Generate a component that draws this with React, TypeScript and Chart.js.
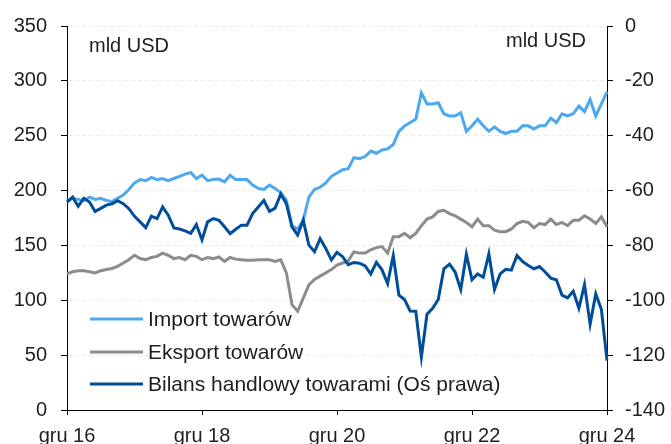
import React, { useEffect, useRef } from "react";
import { Chart, registerables } from "chart.js";

Chart.register(...registerables);

const monthNames = ["sty", "lut", "mar", "kwi", "maj", "cze", "lip", "sie", "wrz", "paź", "lis", "gru"];
const startYear = 2016;
const startMonth = 11; // grudzień 2016
const monthCount = 97; // gru 16 .. gru 24
const labels: string[] = [];
for (let k = 0; k < monthCount; k++) {
  const m = (startMonth + k) % 12;
  const y = startYear + Math.floor((startMonth + k) / 12);
  labels.push(`${monthNames[m]} ${String(y).slice(2)}`);
}
const tickEvery = 24;

const importTowarow = [
  190, 193, 192, 191, 194, 192, 193, 191, 190, 193, 196, 201, 207, 210, 209, 212, 210, 211, 209, 211,
  213, 215, 216.5, 211, 214, 209, 210, 210.5, 208, 214, 210, 210, 210, 205, 202, 201, 205, 202, 198, 191,
  168, 165, 173, 194, 201, 203, 207, 213, 216, 219, 220, 230, 229, 231, 236, 234, 237, 238, 242, 254,
  259, 262, 265, 289, 279, 279, 280, 270, 268, 268, 271, 254, 259, 265, 259, 254, 258, 254, 252, 254,
  254, 259, 259, 256, 259, 259, 266, 262, 270, 268, 270, 277, 272, 283, 268, 279, 290,
];

const eksportTowarow = [
  124, 126, 127, 127, 126, 125, 127, 128, 129, 131, 134, 137, 141, 138, 137, 139, 140, 143, 141, 138,
  139, 137, 141, 140, 137, 139, 138, 139.5, 135.5, 139, 137.5, 137, 136.5, 136.5, 137, 137, 137, 135.5, 137, 125,
  96, 90, 102, 114, 119, 122, 125, 128, 132, 134, 136, 144, 143, 143, 146, 148, 149, 143, 158, 158,
  161, 157, 161, 168, 174, 176, 181, 182, 179, 177, 174, 171, 167, 174, 168, 168, 164, 162.5, 162.5, 165,
  170, 172, 171, 166, 170, 169, 174, 169, 171, 168, 173, 173, 177, 174, 170, 176, 167,
];

const bilansHandlowy = [
  -64.2, -62.4, -65.7, -62.8, -64.2, -67.6, -66.5, -65.3, -64.8, -63.7, -64.8, -66.6, -69.4, -71.4, -73.5, -69.3, -70.2, -66, -69, -73.6,
  -74, -74.7, -75.6, -72.4, -78, -71.4, -70.2, -70.8, -73.2, -75.7, -74.1, -72.6, -72.6, -68.4, -66, -63.6, -67.6, -66.4, -61.2, -64.8,
  -73.2, -76.2, -70.8, -79.9, -82.3, -77.5, -81.1, -85.3, -82.5, -84.1, -87, -86.2, -86.5, -87.5, -90.4, -86.2, -88.9, -93.9, -83.7, -98.1,
  -99.7, -103.9, -104, -120.7, -105.1, -102.9, -99.7, -88.5, -86.8, -89.7, -96.1, -83.2, -92.5, -90.4, -91.6, -83, -96.1, -90.4, -88.7, -89,
  -83.7, -85.9, -87.3, -88.5, -87.7, -89.7, -91.9, -92.5, -98.1, -99.1, -96.7, -102.9, -94.3, -108.7, -97.7, -103.3, -122,
];

const seriesNames = ["Import towarów", "Eksport towarów", "Bilans handlowy towarami (Oś prawa)"];
const unitLeft = "mld USD";
const unitRight = "mld USD";

const FONT = "Liberation Sans, Arial, sans-serif";
const TEXT = "#1e1e1e";

const overlayPlugin = {
  id: "overlay",
  afterDraw(chart: any) {
    const ctx = chart.ctx as CanvasRenderingContext2D;
    const area = chart.chartArea;
    ctx.save();
    ctx.font = `20px ${FONT}`;
    ctx.fillStyle = TEXT;
    ctx.textBaseline = "middle";
    ctx.textAlign = "left";
    ctx.fillText(unitLeft, area.left + 22, area.top + 20);
    ctx.textAlign = "right";
    ctx.fillText(unitRight, area.right - 21, area.top + 15);
    // legend
    ctx.font = `21px ${FONT}`;
    const rowY = [area.bottom - 91, area.bottom - 58, area.bottom - 26];
    chart.data.datasets.forEach((ds: any, i: number) => {
      const y = rowY[i];
      ctx.strokeStyle = ds.borderColor;
      ctx.lineWidth = 3;
      ctx.beginPath();
      ctx.moveTo(area.left + 23, y);
      ctx.lineTo(area.left + 76, y);
      ctx.stroke();
      ctx.fillStyle = TEXT;
      ctx.textAlign = "left";
      ctx.fillText(ds.label, area.left + 81, y + 1);
    });
    ctx.restore();
  },
};

export default function App() {
  const ref = useRef<HTMLCanvasElement | null>(null);
  useEffect(() => {
    if (!ref.current) return;
    const chart = new Chart(ref.current, {
      type: "line",
      data: {
        labels,
        datasets: [
          {
            label: seriesNames[0],
            data: importTowarow,
            borderColor: "#4DA8F2",
            backgroundColor: "#4DA8F2",
            borderWidth: 3,
            pointRadius: 0,
            tension: 0,
            yAxisID: "y",
            order: 1,
          },
          {
            label: seriesNames[1],
            data: eksportTowarow,
            borderColor: "#8C8C8C",
            backgroundColor: "#8C8C8C",
            borderWidth: 3,
            pointRadius: 0,
            tension: 0,
            yAxisID: "y",
            order: 2,
          },
          {
            label: seriesNames[2],
            data: bilansHandlowy,
            borderColor: "#004D9A",
            backgroundColor: "#004D9A",
            borderWidth: 3,
            pointRadius: 0,
            tension: 0,
            yAxisID: "y1",
            order: 0,
          },
        ],
      },
      options: {
        responsive: false,
        animation: false,
        devicePixelRatio: 1,
        layout: { padding: { top: 22, left: 0, right: 0, bottom: 0 } },
        plugins: { legend: { display: false }, tooltip: { enabled: false } },
        scales: {
          x: {
            type: "category",
            offset: false,
            afterBuildTicks(axis: any) {
              axis.ticks = axis.ticks.filter((t: any) => t.value % tickEvery === 0);
            },
            afterFit(axis: any) {
              axis.height = 34;
            },
            ticks: {
              autoSkip: false,
              maxRotation: 0,
              minRotation: 0,
              padding: 9,
              color: TEXT,
              font: { family: FONT, size: 20 },
            },
            grid: { drawOnChartArea: false, drawTicks: true, tickLength: 5, tickColor: "#000" },
            border: { display: true, color: "#000", width: 1 },
          },
          y: {
            position: "left",
            min: 0,
            max: 350,
            afterFit(axis: any) {
              axis.width = 67;
            },
            ticks: { stepSize: 50, padding: 14, color: TEXT, font: { family: FONT, size: 20 } },
            grid: { color: "#ebebeb", tickLength: 6, tickColor: "#000" },
            border: { display: true, color: "#000", width: 1, dash: [4, 3] },
          },
          y1: {
            position: "right",
            min: -140,
            max: 0,
            afterFit(axis: any) {
              axis.width = 64;
            },
            ticks: { stepSize: 20, padding: 12, color: TEXT, font: { family: FONT, size: 20 } },
            grid: { drawOnChartArea: false, tickLength: 6, tickColor: "#000" },
            border: { display: true, color: "#000", width: 1 },
          },
        },
      },
      plugins: [overlayPlugin],
    });
    return () => chart.destroy();
  }, []);
  return (
    <div style={{ position: "fixed", left: 0, top: 0, width: 671, height: 444, background: "#fff" }}>
      <canvas ref={ref} width={671} height={444} style={{ display: "block", width: 671, height: 444 }} />
    </div>
  );
}
